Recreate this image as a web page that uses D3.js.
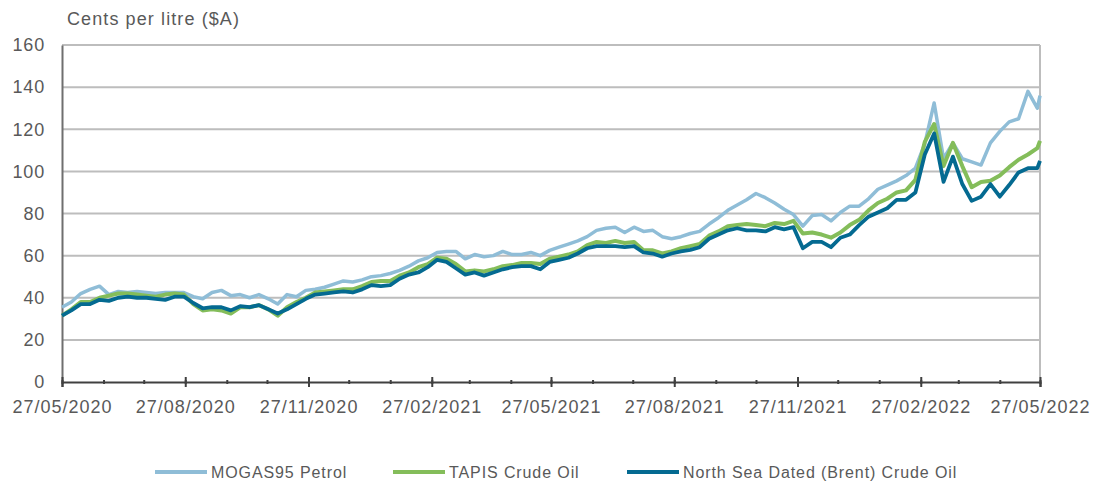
<!DOCTYPE html>
<html>
<head>
<meta charset="utf-8">
<script src="https://cdn.jsdelivr.net/npm/d3@7"></script>
<style>
  body { margin: 0; background: #fff; }
  text { font-family: "Liberation Sans", Arial, sans-serif; fill: #595959; }
</style>
</head>
<body>
<div id="main"></div>
<script>
// weekly readings, 27/05/2020 .. 25/05/2022, plus the last day 27/05/2022
let firstDay = "27/05/2020";
let lastDay = "27/05/2022";
let tickLabels = ["27/05/2020", "27/08/2020", "27/11/2020", "27/02/2021", "27/05/2021",
                  "27/08/2021", "27/11/2021", "27/02/2022", "27/05/2022"];
let yTicks = [0, 20, 40, 60, 80, 100, 120, 140, 160];
let seriesNames = ["MOGAS95 Petrol", "TAPIS Crude Oil", "North Sea Dated (Brent) Crude Oil"];

let mogas = [35.5,38,42,44,45.5,41.5,43,42.5,43,42.5, 42,42.5,42.5,42.5,40.5,39.5,42.5,43.5,41,41.5,
             40,41.5,39.5,37,41.5,40.5,43.5,44,45,46.5, 48,47.5,48.5,50,50.5,51.5,53,55,57.5,59,
             61.5,62,62,58.5,60.5,59.5,60,62,60.5,60.5, 61.5,60,62.5,64,65.5,67,69,72,73,73.5,
             71,73.5,71.5,72,69,68,69,70.5,71.5,75, 78,81.5,84,86.5,89.5,87.5,85,82,79.5,74,
             79,79.5,76.5,80.5,83.5,83.5,87,91.5,93.5,95.5, 98,101.5,113,132.5,106,113.5,106,104.5,103,113.5,
             119,123.5,125,138,130,136];
let tapis = [31.5,34.5,38,38,40,41,42,42,41.5,41, 40.5,41.5,42,41.5,37,34,34.5,34,32.5,35.5,
             35.5,36.5,34.5,31.5,35.5,38,40,42.5,43,43.5, 44,44,45.5,47.5,48,48,50.5,52,54.5,56,
             59,58.5,56,52.5,53,52.5,53.5,55,55.5,56.5, 56.5,56,58.5,59.5,60.5,62,65,66.5,66,67,
             66,66.5,62.5,62.5,61,62,63.5,64.5,65.5,69.5, 71.5,74,74.5,75,74.5,74,75.5,75,76.5,70.5,
             71,70,68.5,71,74.5,77,81.5,85,87,90, 91,96,114,122.5,102.5,113.5,102.5,92.5,95,95.5,
             98,102,105.5,108,111,114.5];
let brent = [31.5,34,37,37,39,38.5,40,40.5,40,40, 39.5,39,40.5,40.5,37.5,35,35.5,35.5,34,36,
             35.5,36.5,34.5,32.5,34.5,37,39.5,41.5,42,42.5, 43,42.5,44,46,45.5,46,49,51,52,54.5,
             58,57,54,51,52,50.5,52,53.5,54.5,55, 55,53.5,57,58,59,61,63.5,64.5,64.5,64.5,
             64,64.5,61.5,61,59.5,61,62,62.7,64,68, 70,72,73,72,72,71.5,73.5,72.5,73.5,63.5,
             66.5,66.5,64,68.5,70,74.5,78.5,80.5,82.5,86.5, 86.5,90,108,118,95,107,94,86,88,94,
             88,93.5,99.5,101.5,101.5,105];

let parse = d3.timeParse("%d/%m/%Y");
let start = parse(firstDay);
let end = parse(lastDay);
let dates = d3.timeDay.range(start, end, 7);
dates.push(end);

let w = 1096;
let h = 485;
let padLeft = 62, padRight = 1040, padTop = 45, padBottom = 382;

let xScale = d3.scaleTime().domain([start, end]).range([padLeft, padRight]);
let yScale = d3.scaleLinear().domain([0, 160]).range([padBottom, padTop]);

let svg = d3.select("#main").append("svg")
  .attr("width", w)
  .attr("height", h);

// gridlines
svg.append("g").selectAll("line")
  .data(yTicks.filter(d => d > 0))
  .enter().append("line")
  .attr("x1", padLeft).attr("x2", padRight)
  .attr("y1", d => yScale(d)).attr("y2", d => yScale(d))
  .attr("stroke", "#bdbdbd").attr("stroke-width", 2);

svg.append("line")
  .attr("x1", padRight).attr("x2", padRight)
  .attr("y1", yScale(160)).attr("y2", yScale(0))
  .attr("stroke", "#bdbdbd").attr("stroke-width", 2);

// y axis
let yAxis = d3.axisLeft(yScale).tickValues(yTicks).tickSize(0).tickPadding(17);
let gy = svg.append("g").attr("transform", "translate(" + padLeft + ",0)").call(yAxis);
gy.select(".domain").attr("stroke", "#6f6f6f").attr("stroke-width", 2);
gy.selectAll("text").style("font-size", "18px").style("letter-spacing", "0.8px").attr("fill", "#595959");

svg.append("text")
  .attr("x", 67).attr("y", 25)
  .style("font-size", "18px").style("letter-spacing", "1.1px")
  .text("Cents per litre ($A)");

// series
let lineColors = ["#8fbdd7", "#84bd5a", "#046a91"];
let lineWidths = [3.5, 4, 3.8];
let allSeries = [mogas, tapis, brent];

let line = d3.line()
  .x((d, i) => xScale(dates[i]))
  .y(d => yScale(d))
  .curve(d3.curveLinear);

allSeries.forEach((s, k) => {
  svg.append("path")
    .datum(s)
    .attr("d", line)
    .attr("fill", "none")
    .attr("stroke", lineColors[k])
    .attr("stroke-width", lineWidths[k])
    .attr("stroke-linejoin", "round");
});

// x axis, minor monthly ticks then major quarterly ticks with labels
let minorDates = d3.range(25).map(i => d3.timeMonth.offset(start, i));
let gMinor = svg.append("g").attr("transform", "translate(0," + padBottom + ")")
  .call(d3.axisBottom(xScale).tickValues(minorDates).tickSize(3).tickFormat(""));
gMinor.selectAll(".tick line").attr("y1", -2).attr("y2", 2).attr("stroke", "#404040").attr("stroke-width", 2);
gMinor.select(".domain").remove();

let majorDates = tickLabels.map(parse);
let xAxis = d3.axisBottom(xScale).tickValues(majorDates)
  .tickFormat(d3.timeFormat("%d/%m/%Y")).tickSize(5).tickPadding(13);
let gx = svg.append("g").attr("transform", "translate(0," + padBottom + ")").call(xAxis);
gx.select(".domain").attr("stroke", "#404040").attr("stroke-width", 2);
gx.selectAll(".tick line").attr("y1", -5).attr("y2", 5).attr("stroke", "#404040").attr("stroke-width", 2);
gx.selectAll("text").style("font-size", "18px").style("letter-spacing", "1px").attr("fill", "#595959");

// legend
let legendX = [155, 393, 627];
let legend = svg.append("g");
seriesNames.forEach((n, k) => {
  legend.append("line")
    .attr("x1", legendX[k]).attr("x2", legendX[k] + 52)
    .attr("y1", 472).attr("y2", 472)
    .attr("stroke", lineColors[k]).attr("stroke-width", 4);
  legend.append("text")
    .attr("x", legendX[k] + 56).attr("y", 478)
    .style("font-size", "16px").style("letter-spacing", "0.9px")
    .text(n);
});
</script>
</body>
</html>
